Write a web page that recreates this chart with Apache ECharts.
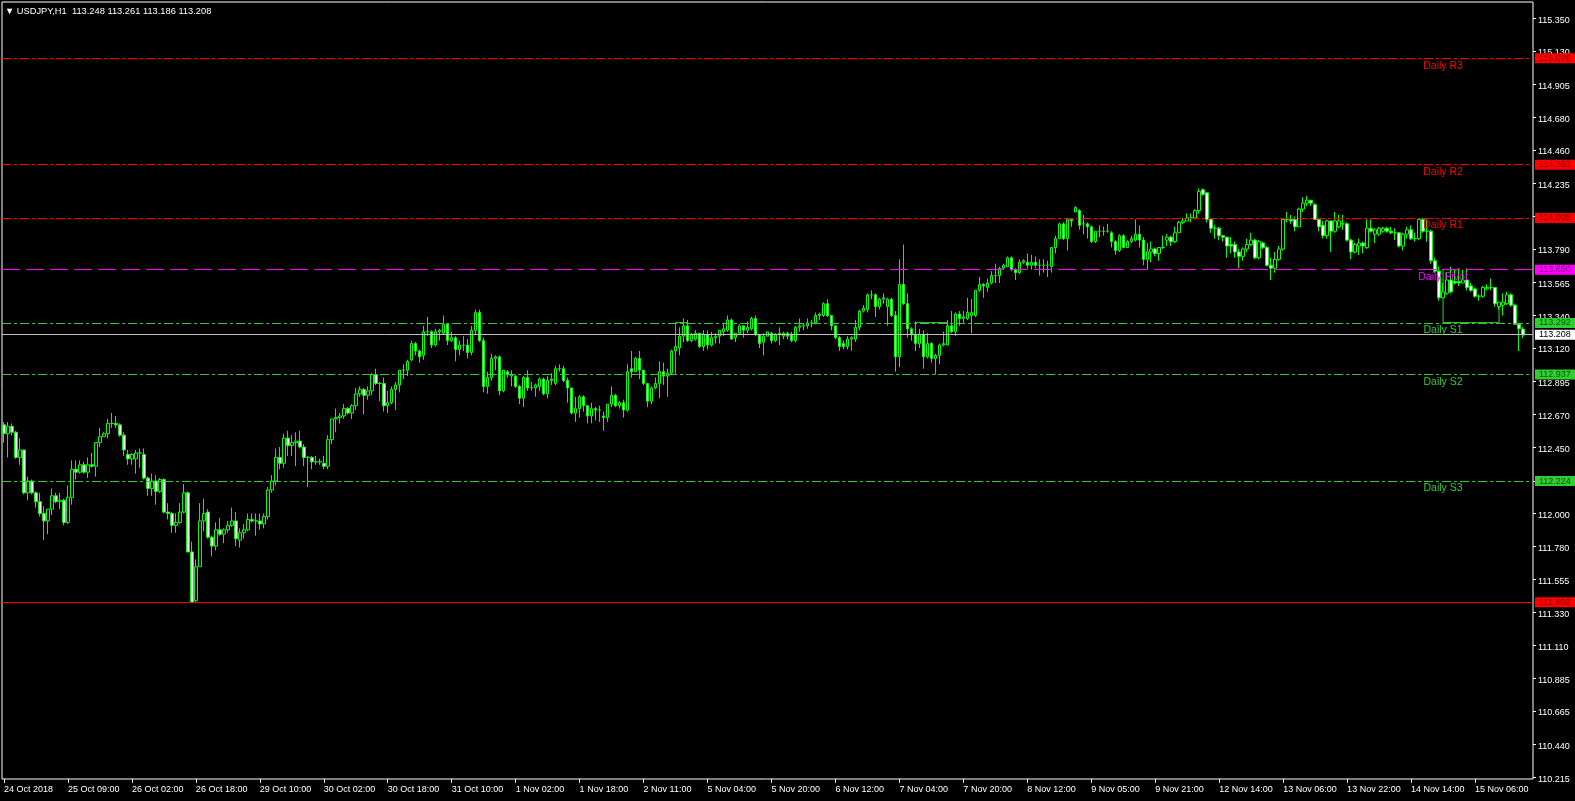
<!DOCTYPE html>
<html>
<head>
<meta charset="utf-8">
<script src="https://cdn.jsdelivr.net/npm/echarts/dist/echarts.min.js"></script>
<style>
html,body{margin:0;padding:0;background:#000;}
#chart{width:1575px;height:801px;}
</style>
</head>
<body>
<div id="chart"></div>
<script>
// ---- data ----
const symbolTitle = '▼ USDJPY,H1  113.248 113.261 113.186 113.208';
const xTickLabels = ['24 Oct 2018','25 Oct 09:00','26 Oct 02:00','26 Oct 18:00','29 Oct 10:00','30 Oct 02:00','30 Oct 18:00','31 Oct 10:00','1 Nov 02:00','1 Nov 18:00','2 Nov 11:00','5 Nov 04:00','5 Nov 20:00','6 Nov 12:00','7 Nov 04:00','7 Nov 20:00','8 Nov 12:00','9 Nov 05:00','9 Nov 21:00','12 Nov 14:00','13 Nov 06:00','13 Nov 22:00','14 Nov 14:00','15 Nov 06:00'];
const yTickLabels = ['115.350','115.130','114.905','114.680','114.460','114.235','114.010','113.790','113.565','113.340','113.120','112.895','112.670','112.450','112.220','112.000','111.780','111.555','111.330','111.110','110.885','110.665','110.440','110.215'];
const levelNames = ['Daily R3','Daily R2','Daily R1','Daily Pivot','Daily S1','Daily S2','Daily S3'];
const levelValues = [115.076,114.363,114.005,113.650,113.292,112.937,112.224];
const bidPrice = 113.208;
const lowPrice = 111.403;
// solid step segments drawn by the pivot indicator: [bar index, price], null = break
const stepLines = [
  [171,113.292],[168,113.292],[168,112.937], null,
  [228,113.21],[228,113.292],[236,113.292],[236,113.26], null,
  [364,113.650],[360,113.650],[360,113.292],[374,113.292],[374,113.40]
];
// [open, close, low, high] per H1 bar
const candles = [
[112.60,112.54,112.48,112.62],[112.54,112.59,112.38,112.62],[112.59,112.55,112.53,112.61],[112.55,112.38,112.37,112.56],[112.38,112.43,112.33,112.51],
[112.43,112.14,112.13,112.43],[112.14,112.22,112.09,112.25],[112.22,112.14,112.13,112.23],[112.14,112.08,112.04,112.15],[112.08,112.00,111.98,112.14],
[112.00,111.95,111.82,112.05],[111.95,112.03,111.86,112.03],[112.03,112.12,111.99,112.17],[112.12,112.08,112.07,112.14],[112.08,112.09,112.03,112.14],
[112.09,111.94,111.92,112.10],[111.94,112.11,111.93,112.19],[112.11,112.30,112.06,112.36],[112.30,112.28,112.23,112.36],[112.28,112.33,112.27,112.36],
[112.33,112.28,112.27,112.35],[112.28,112.33,112.24,112.38],[112.33,112.32,112.31,112.41],[112.32,112.48,112.25,112.48],[112.48,112.52,112.45,112.58],
[112.52,112.54,112.52,112.55],[112.54,112.61,112.51,112.64],[112.61,112.61,112.58,112.68],[112.61,112.60,112.58,112.66],[112.60,112.53,112.52,112.61],
[112.53,112.43,112.39,112.55],[112.40,112.37,112.33,112.43],[112.37,112.40,112.33,112.41],[112.37,112.41,112.27,112.43],[112.41,112.41,112.31,112.44],
[112.40,112.24,112.23,112.44],[112.24,112.17,112.12,112.25],[112.17,112.22,112.12,112.27],[112.22,112.15,112.06,112.26],[112.15,112.23,112.14,112.24],
[112.23,112.01,112.00,112.24],[112.01,112.00,111.96,112.07],[112.00,111.92,111.87,112.01],[111.92,111.94,111.87,112.00],[111.94,112.01,111.93,112.07],
[112.01,112.14,112.00,112.20],[112.14,111.74,111.74,112.15],[111.74,111.40,111.395,111.81],[111.41,111.64,111.40,111.69],[111.64,111.95,111.64,112.07],
[111.95,112.00,111.88,112.10],[112.01,111.84,111.83,112.03],[111.84,111.78,111.71,111.85],[111.78,111.89,111.75,111.94],[111.89,111.86,111.85,111.97],
[111.86,111.89,111.80,111.90],[111.89,111.92,111.87,111.95],[111.92,111.95,111.91,112.04],[111.95,111.83,111.78,112.01],[111.82,111.87,111.77,111.90],
[111.87,111.89,111.83,111.93],[111.89,111.96,111.88,112.00],[111.96,111.95,111.94,112.00],[111.95,111.95,111.85,112.00],[111.95,111.93,111.89,112.00],
[111.93,111.98,111.90,112.00],[111.98,112.16,111.96,112.18],[112.16,112.22,112.14,112.26],[112.22,112.38,112.19,112.44],[112.38,112.34,112.30,112.45],
[112.34,112.51,112.31,112.54],[112.51,112.46,112.39,112.56],[112.46,112.48,112.39,112.53],[112.48,112.49,112.32,112.55],[112.49,112.45,112.44,112.56],
[112.45,112.38,112.32,112.47],[112.38,112.38,112.18,112.39],[112.38,112.35,112.30,112.39],[112.35,112.35,112.33,112.39],[112.35,112.35,112.33,112.37],
[112.34,112.32,112.30,112.39],[112.32,112.50,112.30,112.53],[112.50,112.64,112.47,112.64],[112.64,112.65,112.55,112.71],[112.65,112.66,112.61,112.68],
[112.66,112.71,112.64,112.74],[112.71,112.68,112.67,112.72],[112.68,112.73,112.64,112.74],[112.73,112.81,112.70,112.85],[112.81,112.84,112.79,112.86],
[112.84,112.80,112.67,112.85],[112.80,112.83,112.77,112.86],[112.83,112.94,112.80,112.95],[112.94,112.88,112.87,112.98],[112.88,112.88,112.76,112.89],
[112.88,112.73,112.69,112.92],[112.73,112.75,112.68,112.83],[112.75,112.84,112.74,112.86],[112.84,112.87,112.70,112.89],[112.87,112.97,112.82,112.97],
[112.97,112.97,112.91,113.01],[112.97,113.03,112.93,113.04],[113.04,113.15,113.03,113.17],[113.15,113.10,113.07,113.16],[113.10,113.06,113.02,113.11],
[113.07,113.23,113.04,113.27],[113.23,113.23,113.20,113.33],[113.23,113.14,113.12,113.24],[113.14,113.23,113.13,113.25],[113.23,113.24,113.17,113.25],
[113.22,113.28,113.21,113.34],[113.28,113.17,113.14,113.28],[113.17,113.19,113.16,113.23],[113.19,113.11,113.03,113.20],[113.11,113.14,113.07,113.17],
[113.14,113.14,113.10,113.20],[113.14,113.09,113.05,113.18],[113.09,113.24,113.07,113.27],[113.24,113.36,113.21,113.38],[113.36,113.17,113.16,113.38],
[113.17,112.86,112.82,113.19],[112.86,112.92,112.81,112.96],[112.92,113.05,112.90,113.08],[113.05,113.06,112.97,113.07],[113.06,112.83,112.80,113.07],
[112.83,112.97,112.82,112.97],[112.96,112.94,112.92,112.97],[112.93,112.94,112.86,112.97],[112.93,112.86,112.85,112.94],[112.86,112.78,112.74,112.87],
[112.78,112.92,112.72,112.93],[112.92,112.85,112.83,112.97],[112.85,112.85,112.83,112.89],[112.85,112.87,112.79,112.88],[112.86,112.91,112.83,112.92],
[112.91,112.81,112.80,112.92],[112.81,112.90,112.78,112.93],[112.90,112.91,112.87,112.95],[112.88,112.98,112.87,113.00],[112.98,112.98,112.96,113.01],
[112.98,112.90,112.89,113.00],[112.90,112.85,112.75,112.92],[112.85,112.68,112.67,112.85],[112.68,112.71,112.62,112.79],[112.71,112.79,112.65,112.80],
[112.79,112.73,112.69,112.80],[112.73,112.66,112.61,112.73],[112.66,112.71,112.61,112.75],[112.71,112.70,112.63,112.72],[112.70,112.70,112.62,112.73],
[112.66,112.65,112.56,112.69],[112.65,112.74,112.62,112.74],[112.74,112.80,112.72,112.86],[112.80,112.73,112.72,112.81],[112.73,112.75,112.71,112.76],
[112.75,112.70,112.65,112.77],[112.70,112.96,112.69,113.01],[112.98,112.96,112.92,113.10],[112.96,113.05,112.96,113.06],[113.05,112.97,112.91,113.10],
[112.97,112.88,112.87,112.97],[112.88,112.76,112.72,112.88],[112.76,112.85,112.74,112.86],[112.85,112.88,112.84,112.92],[112.88,112.96,112.78,113.03],
[112.96,112.93,112.87,113.02],[112.93,112.95,112.79,112.98],[112.95,113.10,112.94,113.11],[113.10,113.13,113.07,113.14],[113.12,113.20,113.07,113.26],
[113.20,113.27,113.16,113.32],[113.27,113.17,113.16,113.31],[113.17,113.21,113.16,113.22],[113.18,113.22,113.17,113.24],[113.22,113.13,113.12,113.22],
[113.13,113.21,113.10,113.24],[113.21,113.14,113.11,113.24],[113.14,113.19,113.13,113.23],[113.19,113.20,113.15,113.22],[113.20,113.24,113.15,113.24],
[113.23,113.25,113.20,113.29],[113.24,113.31,113.23,113.34],[113.31,113.18,113.18,113.32],[113.19,113.22,113.16,113.22],[113.22,113.27,113.21,113.28],
[113.27,113.24,113.19,113.27],[113.24,113.26,113.22,113.30],[113.25,113.32,113.24,113.33],[113.32,113.21,113.20,113.34],[113.21,113.15,113.12,113.21],
[113.16,113.20,113.07,113.22],[113.20,113.23,113.20,113.23],[113.22,113.17,113.15,113.23],[113.17,113.21,113.16,113.22],[113.21,113.22,113.14,113.26],
[113.20,113.22,113.18,113.23],[113.22,113.20,113.18,113.23],[113.21,113.17,113.16,113.23],[113.17,113.26,113.16,113.27],[113.26,113.27,113.23,113.32],
[113.27,113.27,113.24,113.29],[113.27,113.29,113.25,113.32],[113.29,113.29,113.26,113.31],[113.29,113.34,113.28,113.36],[113.34,113.35,113.31,113.36],
[113.34,113.42,113.33,113.43],[113.42,113.34,113.33,113.45],[113.34,113.27,113.24,113.34],[113.27,113.19,113.18,113.27],[113.19,113.13,113.10,113.20],
[113.15,113.13,113.11,113.17],[113.13,113.18,113.11,113.20],[113.18,113.19,113.10,113.20],[113.18,113.26,113.16,113.31],[113.26,113.37,113.24,113.38],
[113.37,113.39,113.36,113.41],[113.38,113.48,113.36,113.49],[113.48,113.48,113.45,113.51],[113.48,113.40,113.33,113.49],[113.40,113.45,113.38,113.46],
[113.45,113.46,113.42,113.49],[113.40,113.45,113.27,113.46],[113.45,113.34,113.33,113.46],[113.34,113.06,112.96,113.37],[113.06,113.55,112.99,113.72],
[113.55,113.42,113.41,113.82],[113.42,113.25,113.19,113.49],[113.25,113.21,113.17,113.26],[113.21,113.15,113.10,113.30],[113.15,113.21,113.12,113.25],
[113.21,113.06,112.98,113.24],[113.06,113.15,113.05,113.22],[113.15,113.05,113.02,113.16],[113.05,113.07,112.94,113.08],[113.07,113.14,113.01,113.15],
[113.14,113.15,113.13,113.23],[113.14,113.27,113.14,113.31],[113.27,113.23,113.22,113.37],[113.23,113.35,113.20,113.36],[113.35,113.32,113.27,113.37],
[113.32,113.33,113.29,113.37],[113.32,113.36,113.31,113.46],[113.34,113.36,113.22,113.45],[113.34,113.51,113.33,113.51],[113.51,113.55,113.50,113.60],
[113.55,113.54,113.46,113.56],[113.53,113.56,113.50,113.59],[113.56,113.61,113.55,113.64],[113.61,113.61,113.56,113.69],[113.61,113.66,113.56,113.67],
[113.66,113.68,113.65,113.69],[113.67,113.73,113.67,113.74],[113.73,113.65,113.64,113.74],[113.65,113.63,113.58,113.66],[113.63,113.70,113.62,113.72],
[113.70,113.71,113.69,113.72],[113.70,113.68,113.66,113.76],[113.68,113.70,113.65,113.75],[113.70,113.68,113.66,113.74],[113.68,113.68,113.61,113.72],
[113.68,113.68,113.63,113.72],[113.68,113.68,113.60,113.71],[113.67,113.80,113.63,113.80],[113.80,113.86,113.76,113.88],[113.86,113.96,113.86,113.97],
[113.96,113.86,113.85,113.97],[113.86,113.99,113.78,114.00],[113.99,113.98,113.94,114.00],[114.04,114.07,114.04,114.08],[114.05,113.95,113.92,114.06],
[113.96,113.96,113.89,114.02],[113.96,113.94,113.86,113.97],[113.94,113.84,113.83,113.95],[113.84,113.91,113.83,113.91],[113.91,113.91,113.87,113.95],
[113.91,113.91,113.88,113.94],[113.91,113.91,113.90,113.96],[113.90,113.84,113.80,113.91],[113.84,113.78,113.75,113.85],[113.78,113.88,113.77,113.89],
[113.88,113.80,113.80,113.89],[113.80,113.84,113.80,113.85],[113.84,113.86,113.83,113.88],[113.85,113.89,113.84,113.99],[113.89,113.85,113.80,113.95],
[113.85,113.72,113.68,113.87],[113.72,113.77,113.65,113.83],[113.77,113.79,113.70,113.84],[113.79,113.76,113.74,113.80],[113.76,113.80,113.71,113.80],
[113.80,113.80,113.79,113.88],[113.85,113.87,113.81,113.89],[113.87,113.84,113.81,113.88],[113.84,113.90,113.83,113.94],[113.90,113.97,113.90,113.98],
[113.97,113.98,113.96,114.00],[113.98,114.00,113.98,114.03],[114.00,114.00,113.97,114.03],[114.00,114.05,113.99,114.06],[114.05,114.18,114.03,114.20],
[114.19,114.16,114.15,114.20],[114.17,113.99,113.97,114.17],[113.99,113.93,113.90,114.00],[113.93,113.93,113.86,113.95],[113.93,113.88,113.85,113.94],
[113.88,113.87,113.84,113.88],[113.87,113.81,113.73,113.87],[113.82,113.81,113.76,113.87],[113.82,113.77,113.73,113.84],[113.77,113.74,113.66,113.79],
[113.74,113.79,113.71,113.80],[113.79,113.82,113.77,113.86],[113.82,113.85,113.81,113.90],[113.85,113.73,113.72,113.86],[113.73,113.84,113.72,113.85],
[113.83,113.80,113.79,113.84],[113.80,113.68,113.67,113.81],[113.68,113.66,113.58,113.73],[113.66,113.72,113.63,113.77],[113.72,113.79,113.71,113.81],
[113.79,113.99,113.78,114.00],[113.99,113.99,113.97,114.04],[113.99,113.98,113.96,114.02],[113.99,113.94,113.91,114.01],[113.94,114.06,113.94,114.07],
[114.06,114.10,114.04,114.14],[114.10,114.12,114.08,114.15],[114.12,114.10,114.08,114.12],[114.09,113.99,113.99,114.10],[113.99,113.94,113.91,114.00],
[113.95,113.88,113.86,113.98],[113.88,113.98,113.86,113.99],[113.98,113.91,113.77,113.98],[113.91,113.98,113.90,114.04],[113.94,113.98,113.93,114.02],
[113.96,113.96,113.92,114.02],[113.96,113.85,113.84,113.97],[113.85,113.77,113.72,113.86],[113.77,113.82,113.76,113.83],[113.81,113.83,113.75,113.86],
[113.83,113.81,113.76,113.84],[113.80,113.93,113.79,113.99],[113.93,113.91,113.90,113.99],[113.89,113.92,113.83,113.93],[113.89,113.93,113.88,113.94],
[113.91,113.93,113.90,113.94],[113.93,113.91,113.90,113.94],[113.91,113.90,113.89,113.94],[113.90,113.90,113.85,113.93],[113.90,113.81,113.80,113.90],
[113.81,113.89,113.78,113.90],[113.89,113.92,113.86,113.94],[113.92,113.86,113.85,113.95],[113.86,113.86,113.84,113.90],[113.86,113.99,113.85,114.00],
[113.99,113.91,113.90,114.00],[113.91,113.91,113.84,113.99],[113.91,113.71,113.69,113.92],[113.71,113.64,113.63,113.73],[113.64,113.46,113.44,113.67],
[113.46,113.50,113.46,113.56],[113.49,113.58,113.48,113.63],[113.58,113.50,113.49,113.67],[113.57,113.56,113.55,113.65],[113.57,113.56,113.54,113.66],
[113.56,113.58,113.56,113.65],[113.58,113.53,113.51,113.66],[113.54,113.51,113.50,113.56],[113.52,113.47,113.46,113.53],[113.47,113.47,113.44,113.48],
[113.47,113.53,113.46,113.54],[113.52,113.53,113.51,113.55],[113.53,113.53,113.51,113.59],[113.53,113.42,113.40,113.53],[113.40,113.43,113.38,113.43],
[113.41,113.43,113.34,113.49],[113.42,113.48,113.41,113.50],[113.48,113.41,113.40,113.49],[113.41,113.28,113.28,113.42],[113.28,113.25,113.10,113.28],
[113.248,113.208,113.186,113.261]
];

// ---- chart ----
const FONT = 'Liberation Sans, Arial, sans-serif';
const totalSlots = candles.length + 2; // right-side empty space (chart shift)
const categories = [];
for (let i = 0; i < totalSlots; i++) categories.push(String(i));

const RED = '#ff0000', MAG = '#ff00ff', GRN = '#32cd32';
function levelStyle(name) {
  if (name.indexOf(' R') > 0) return {line: RED, dash: [9,3,3,3], box: RED, txt: '#800000'};
  if (name.indexOf('Pivot') > 0) return {line: MAG, dash: [18,6], box: MAG, txt: '#800080'};
  return {line: GRN, dash: [9,3,3,3], box: GRN, txt: '#005a00'};
}
function boxLabel(text, bg, txt) {
  return {show: true, position: 'end', distance: 2, formatter: text,
    backgroundColor: bg, color: txt, fontFamily: FONT, fontSize: 9, lineHeight: 10,
    padding: [0, 8, 0, 4]};
}
const markLines = levelNames.map((n, k) => {
  const s = levelStyle(n);
  return {yAxis: levelValues[k], lineStyle: {color: s.line, type: s.dash, width: 1},
    label: boxLabel(levelValues[k].toFixed(3), s.box, s.txt)};
});
markLines.push({yAxis: bidPrice, lineStyle: {color: '#c0c0c0', type: 'solid', width: 1}, label: boxLabel(bidPrice.toFixed(3), '#ffffff', '#000000')});
markLines.push({yAxis: lowPrice, lineStyle: {color: RED, type: 'solid', width: 1}, label: boxLabel(lowPrice.toFixed(3), RED, '#800000')});

const labelBar = 360;
const markPoints = levelNames.map((n, k) => ({
  coord: [labelBar, levelValues[k]], value: n,
  label: {show: true, position: 'bottom', distance: 1, formatter: n, color: levelStyle(n).line,
    fontFamily: FONT, fontSize: 10.5, lineHeight: 12}
}));

const chart = echarts.init(document.getElementById('chart'), null, {renderer: 'canvas'});
chart.setOption({
  backgroundColor: '#000000',
  animation: false,
  title: {text: symbolTitle, left: 5, top: 7, padding: 0,
    textStyle: {color: '#ffffff', fontSize: 9.3, fontWeight: 'normal', fontFamily: FONT}},
  grid: {left: 2, right: 42, top: 2, bottom: 22, show: true, borderColor: '#ffffff', borderWidth: 1, backgroundColor: '#000000'},
  xAxis: {
    type: 'category', data: categories, boundaryGap: true,
    axisLine: {show: false},
    axisTick: {show: true, interval: 15, alignWithLabel: true, length: 4, lineStyle: {color: '#ffffff'}},
    axisLabel: {interval: 15, align: 'left', margin: 6, color: '#ffffff', fontSize: 9, fontFamily: FONT,
      formatter: (v, idx) => xTickLabels[idx / 16] || ''},
    splitLine: {show: false}
  },
  yAxis: {
    type: 'value', position: 'right', min: 110.204, max: 115.461, scale: true,
    axisLine: {show: false},
    splitLine: {show: false},
    axisTick: {show: true, length: 3, customValues: yTickLabels.map(Number), lineStyle: {color: '#ffffff'}},
    axisLabel: {show: true, margin: 5, color: '#ffffff', fontSize: 9, fontFamily: FONT,
      verticalAlign: 'top', lineHeight: 4,
      customValues: yTickLabels.map(Number), formatter: v => yTickLabels[yTickLabels.map(Number).indexOf(v)] || v.toFixed(3)}
  },
  series: [{
    type: 'line',
    data: stepLines.map(p => p === null ? '-' : p),
    connectNulls: false,
    showSymbol: false, symbol: 'none',
    lineStyle: {color: GRN, width: 1},
    silent: true, z: 1
  }, {
    type: 'candlestick',
    data: candles,
    barWidth: 3,
    itemStyle: {color: '#000000', color0: '#ffffff', borderColor: '#00ff00', borderColor0: '#00ff00', borderColorDoji: '#00ff00', borderWidth: 1},
    emphasis: {disabled: true},
    markLine: {silent: true, symbol: ['none', 'none'], animation: false, data: markLines},
    markPoint: {silent: true, symbol: 'circle', symbolSize: 1, itemStyle: {color: 'rgba(0,0,0,0)'}, animation: false, data: markPoints}
  }]
});
</script>
</body>
</html>
